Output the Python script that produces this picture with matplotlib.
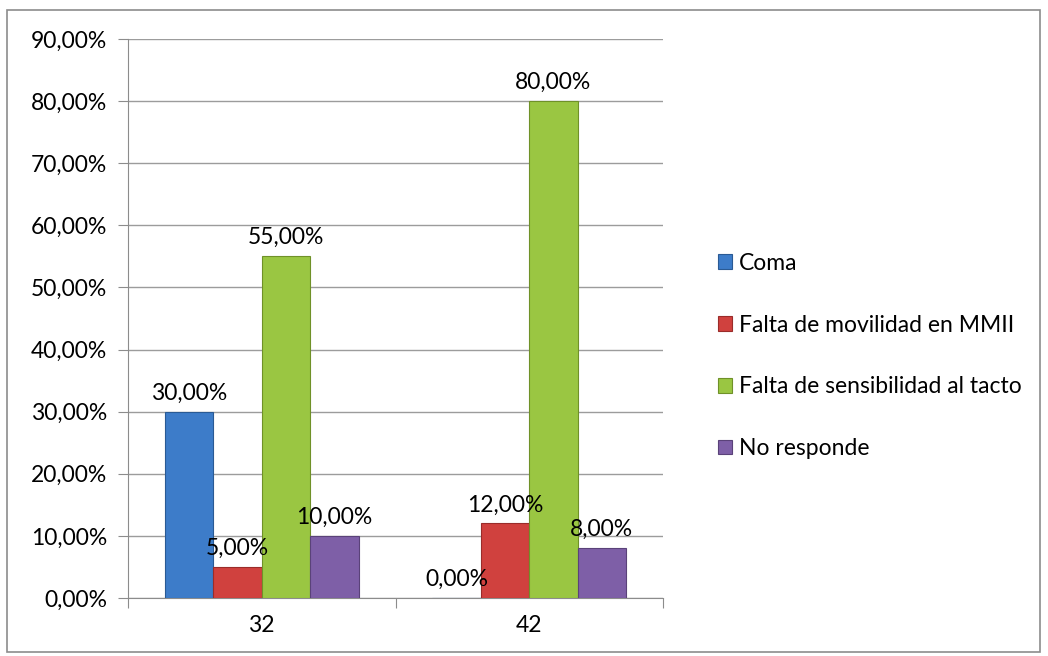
import numpy as np
import matplotlib.pyplot as plt
from matplotlib.patches import Rectangle

plt.rcParams['font.family'] = ['Lato', 'DejaVu Sans']

groups = ["32", "42"]
series = ["Coma", "Falta de movilidad en MMII", "Falta de sensibilidad al tacto", "No responde"]
values = [
    [30.0, 0.0],   # Coma
    [5.0, 12.0],   # Falta de movilidad en MMII
    [55.0, 80.0],  # Falta de sensibilidad al tacto
    [10.0, 8.0],   # No responde
]
colors = ["#3d7cc9", "#d0413e", "#9ac642", "#7e5fa7"]
edges = ["#2a5a94", "#9a2c2a", "#6f9128", "#5a4279"]

fig = plt.figure(figsize=(10.48, 6.56), dpi=100)
# outer chart border
fig.patches.append(Rectangle((7/1048, 1 - 652/656), 1033/1048, 642/656,
                             transform=fig.transFigure, fill=False,
                             edgecolor="#8c8c8c", linewidth=1.2))
ax = fig.add_axes([128/1048, 1 - 598/656, 535/1048, 559/656])

fs = 16.5
x = np.arange(len(groups))
w = 0.181
for i, (name, vals) in enumerate(zip(series, values)):
    pos = x + (i - 1.5) * w
    ax.bar(pos, vals, width=w, color=colors[i], edgecolor=edges[i],
           linewidth=0.8, label=name, zorder=3)
    for p, v in zip(pos, vals):
        ax.text(p, v + 1.3, f"{v:.2f}%".replace(".", ","), ha="center",
                va="bottom", fontsize=fs, zorder=4)

ax.set_xlim(-0.5, 1.5)
ax.set_ylim(0, 90)
yt = np.arange(0, 91, 10)
ax.set_yticks(yt)
ax.set_yticklabels([f"{v:.2f}%".replace(".", ",") for v in yt], fontsize=fs)
ax.set_xticks([-0.5, 0.5, 1.5])
ax.set_xticklabels([])
ax.set_xticks(x, minor=True)
ax.set_xticklabels(groups, minor=True, fontsize=fs)
ax.tick_params(axis="x", which="minor", length=0, pad=12)
ax.tick_params(axis="x", which="major", length=7, color="#8c8c8c")
ax.tick_params(axis="y", length=7, color="#8c8c8c", pad=8)
ax.grid(axis="y", color="#9c9c9c", linewidth=1.0, zorder=0)
for s in ["top", "right"]:
    ax.spines[s].set_visible(False)
ax.spines["left"].set_color("#8c8c8c")
ax.spines["bottom"].set_color("#8c8c8c")

fig.legend(loc="center left", bbox_to_anchor=(707/1048, 1 - 356/656),
           frameon=False, fontsize=fs, labelspacing=1.78,
           handlelength=0.6, handleheight=0.6, handletextpad=0.3,
           borderpad=0)

fig.savefig("out.png", dpi=100)
